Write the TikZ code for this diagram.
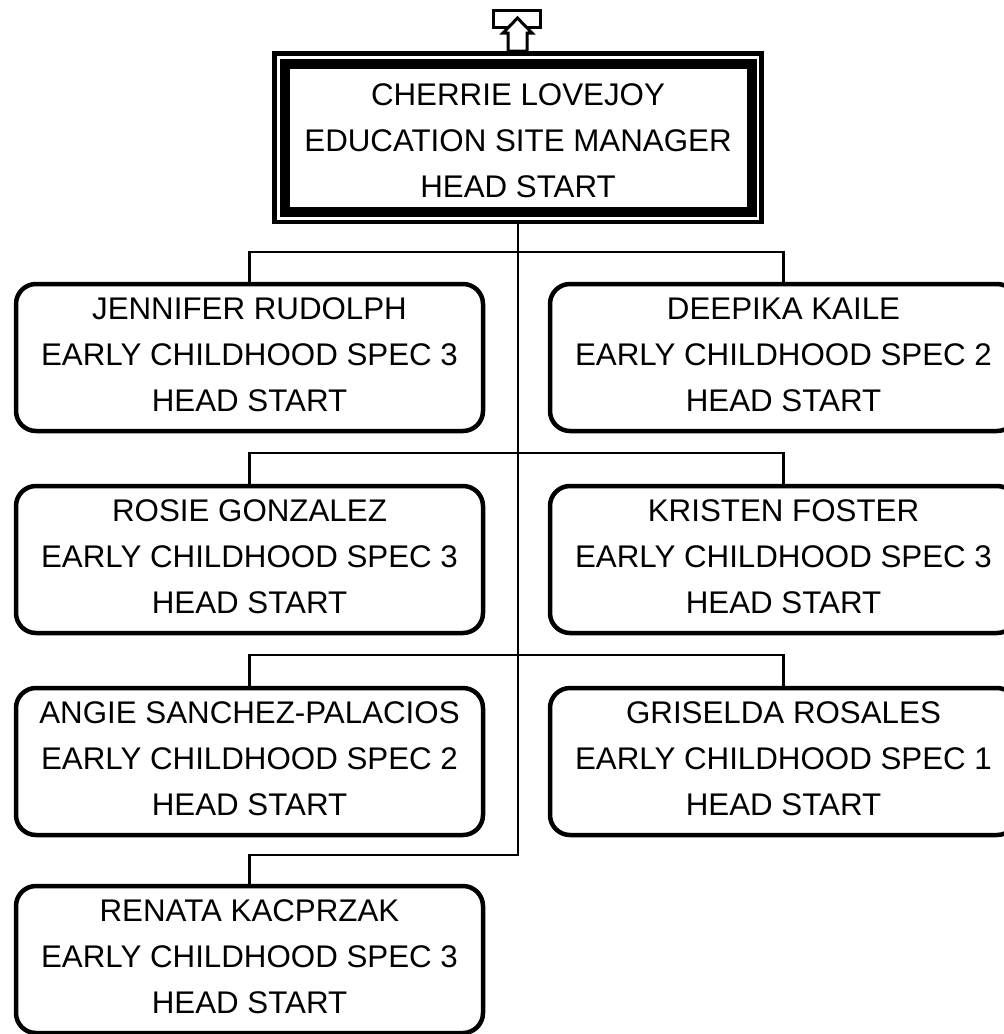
\documentclass[tikz,border=0pt]{standalone}
\usepackage{fontspec}
\setmainfont{Liberation Sans}
\newcommand\lastln[1]{#1\rule[-6pt]{0pt}{6pt}}
\begin{document}
\begin{tikzpicture}[x=1pt,y=-1pt,
  emp/.style={draw, line width=4.5pt, rounded corners=20pt, fill=white,
    minimum width=467pt, minimum height=147pt, outer sep=0pt, inner sep=0pt,
    align=center, font=\fontsize{31.3}{46}\selectfont},
  conn/.style={line width=2.2pt}]
\useasboundingbox (0,0) rectangle (1004,1034);
\clip (0,0) rectangle (1004,1034);
% top manager box
\node[draw, line width=10pt, minimum width=467pt, minimum height=148pt, outer sep=0pt,
  inner sep=0pt, align=center, font=\fontsize{31.3}{46}\selectfont, fill=white]
  (mgr) at (518,137.5) {\rule{0pt}{29pt}CHERRIE LOVEJOY\\EDUCATION SITE MANAGER\\HEAD START};
\draw[line width=4.5pt] ([shift={(-10,-10)}]mgr.north west) rectangle ([shift={(10,10.5)}]mgr.south east);
\coordinate (mgrbot) at ([yshift=-10.5pt]mgr.south);
% employees
\node[emp] (jr) at (249.5,357.5) {JENNIFER RUDOLPH\\EARLY CHILDHOOD SPEC 3\\\lastln{HEAD START}};
\node[emp] (dk) at (783.5,357.5) {DEEPIKA KAILE\\EARLY CHILDHOOD SPEC 2\\\lastln{HEAD START}};
\node[emp] (rg) at (249.5,559.5) {ROSIE GONZALEZ\\EARLY CHILDHOOD SPEC 3\\\lastln{HEAD START}};
\node[emp] (kf) at (783.5,559.5) {KRISTEN FOSTER\\EARLY CHILDHOOD SPEC 3\\\lastln{HEAD START}};
\node[emp] (as) at (249.5,761.5) {ANGIE SANCHEZ-PALACIOS\\EARLY CHILDHOOD SPEC 2\\\lastln{HEAD START}};
\node[emp] (gr) at (783.5,761.5) {GRISELDA ROSALES\\EARLY CHILDHOOD SPEC 1\\\lastln{HEAD START}};
\node[emp] (rk) at (249.5,959.5) {RENATA KACPRZAK\\EARLY CHILDHOOD SPEC 3\\\lastln{HEAD START}};
% connectors
\coordinate (trunkend) at (518,855);
\draw[conn] (mgrbot) -- (trunkend) -| (rk.north);
\draw[conn] (jr.north) -- ++(0,-32) -| (dk.north);
\draw[conn] (rg.north) -- ++(0,-33) -| (kf.north);
\draw[conn] (as.north) -- ++(0,-33) -| (gr.north);
% top arrow marker
\draw[line width=3pt] (493,10) rectangle (540,27);
\draw[line width=3pt, fill=white, line join=miter]
  (517.5,18) -- (532,33) -- (527,33) -- (527,51) -- (508,51) -- (508,33) -- (503,33) -- cycle;
\end{tikzpicture}
\end{document}
